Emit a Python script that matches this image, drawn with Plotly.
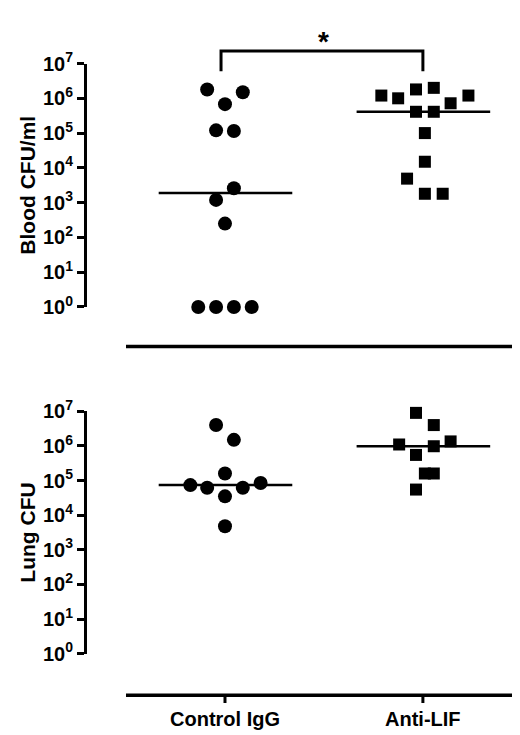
import plotly.graph_objects as go
from plotly.subplots import make_subplots

categories = ['Control IgG', 'Anti-LIF']

# blood CFU/ml (x offset within group, value)
blood_ctrl_dx = [-0.09, 0.09, 0.0, -0.045, 0.045, 0.045, -0.045, 0.0, -0.135, -0.045, 0.045, 0.135]
blood_ctrl = [1.8e6, 1.5e6, 6.8e5, 1.2e5, 1.15e5, 2.6e3, 1.2e3, 2.5e2, 1, 1, 1, 1]
blood_lif_dx = [-0.21, -0.125, -0.035, 0.055, 0.14, 0.23, -0.035, 0.055, 0.01, 0.01, -0.08, 0.01, 0.10]
blood_lif = [1.2e6, 1.0e6, 1.8e6, 2.0e6, 7.2e5, 1.2e6, 4.1e5, 4.1e5, 1.0e5, 1.5e4, 4.9e3, 1.8e3, 1.8e3]
blood_median = [1.9e3, 4.1e5]

# lung CFU
lung_ctrl_dx = [-0.045, 0.045, 0.0, -0.175, -0.09, 0.09, 0.18, 0.0, 0.0]
lung_ctrl = [4.0e6, 1.5e6, 1.6e5, 7.4e4, 6.2e4, 6.2e4, 8.5e4, 3.5e4, 4.8e3]
lung_lif_dx = [-0.035, 0.055, -0.12, 0.14, 0.055, -0.035, 0.01, 0.055, -0.035]
lung_lif = [9.0e6, 4.0e6, 1.1e6, 1.35e6, 9.8e5, 5.5e5, 1.6e5, 1.6e5, 5.5e4]
lung_median = [7.4e4, 9.8e5]

H = 735.0
def py(p):
    return 1 - p / H

fig = make_subplots(rows=2, cols=1)

font = dict(family='Liberation Sans, Arial', size=20, color='black')

def add_panel(row, ctrl_dx, ctrl, lif_dx, lif, med):
    fig.add_trace(go.Scatter(x=ctrl_dx, y=ctrl, mode='markers', cliponaxis=False,
                             marker=dict(symbol='circle', size=14, color='black'),
                             showlegend=False), row=row, col=1)
    fig.add_trace(go.Scatter(x=[1 + d for d in lif_dx], y=lif, mode='markers', cliponaxis=False,
                             marker=dict(symbol='square', size=12, color='black'),
                             showlegend=False), row=row, col=1)
    for i, m in enumerate(med):
        fig.add_shape(type='line', x0=i - 0.335, x1=i + 0.34, y0=m, y1=m,
                      line=dict(color='black', width=2.5), row=row, col=1)

add_panel(1, blood_ctrl_dx, blood_ctrl, blood_lif_dx, blood_lif, blood_median)
add_panel(2, lung_ctrl_dx, lung_ctrl, lung_lif_dx, lung_lif, lung_median)

tickvals = [10 ** k for k in range(8)]
ticktext = ['<b>10<sup>%d</sup></b>' % k for k in range(8)]
yax = dict(type='log', range=[0, 7], tickvals=tickvals, ticktext=ticktext,
           showline=True, linecolor='black', linewidth=3, ticks='outside',
           ticklen=7, tickwidth=3, tickcolor='black', showgrid=False,
           zeroline=False, tickfont=font)
xax = dict(range=[-0.697, 1.51], visible=False, domain=[0.152, 0.992])

fig.update_layout(
    width=520, height=735, margin=dict(l=0, r=0, t=0, b=0),
    plot_bgcolor='white', paper_bgcolor='white',
    xaxis=xax, xaxis2=dict(xax),
    yaxis=dict(yax, domain=[py(295), py(43)],
               title=dict(text='<b>Blood CFU/ml</b>', font=dict(font, size=21), standoff=2)),
    yaxis2=dict(yax, domain=[py(654), py(403)],
                title=dict(text='<b>Lung CFU</b>', font=dict(font, size=21), standoff=2)),
)

# horizontal separator lines (x axis lines)
for yp in [336, 697]:
    fig.add_shape(type='line', xref='paper', yref='paper', x0=118 / 520, x1=516 / 520,
                  y0=py(yp), y1=py(yp), line=dict(color='black', width=3.5))
for i, c in enumerate(categories):
    fig.add_shape(type='line', xref='x2', yref='paper', x0=i, x1=i,
                  y0=py(697), y1=py(705), line=dict(color='black', width=3))
    fig.add_annotation(x=i, y=py(708), xref='x2', yref='paper', yanchor='top',
                       text='<b>%s</b>' % c, showarrow=False, font=dict(font, size=20))

# significance bracket
fig.add_shape(type='path', xref='x', yref='paper',
              path='M -0.02 %f L -0.02 %f L 1.0 %f L 1.0 %f' % (py(51), py(30), py(30), py(51)),
              line=dict(color='black', width=3))
fig.add_annotation(x=0.5, y=py(2), xref='x', yref='paper', yanchor='top', text='<b>*</b>',
                   showarrow=False, font=dict(font, size=28))

fig.write_html('out.html')
